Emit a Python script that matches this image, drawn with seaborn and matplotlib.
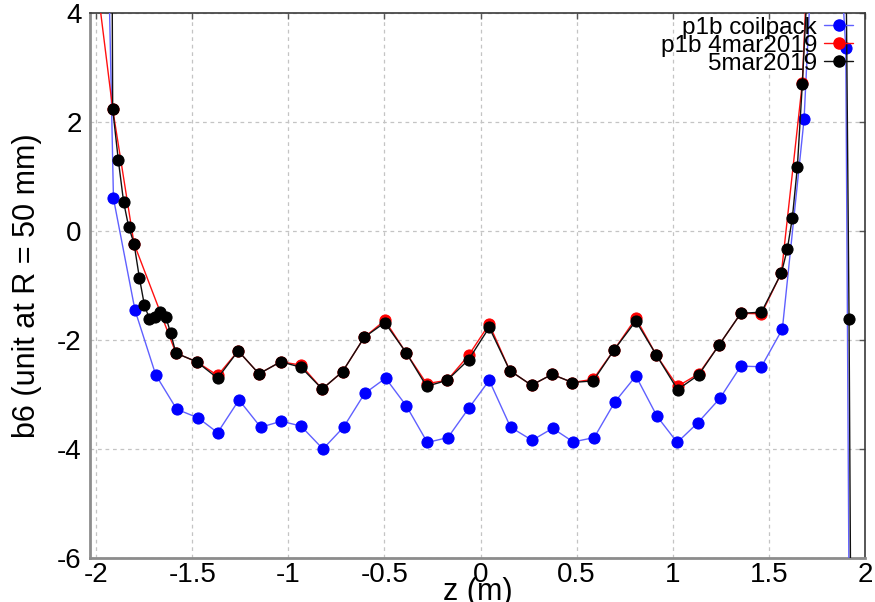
import matplotlib
matplotlib.use("Agg")
import matplotlib.pyplot as plt
from matplotlib.lines import Line2D
import seaborn as sns

# b6 harmonic along the magnet axis, three measurements
z_coilpack = [-2.018, -1.910, -1.798, -1.690, -1.581, -1.469, -1.368, -1.257, -1.144,
              -1.036, -0.934, -0.820, -0.713, -0.603, -0.494, -0.386, -0.277, -0.170,
              -0.059, 0.045, 0.156, 0.268, 0.375, 0.482, 0.591, 0.698, 0.808, 0.918,
              1.023, 1.130, 1.245, 1.354, 1.461, 1.570, 1.683, 1.792, 1.900, 2.008]
b6_coilpack = [19.0, 0.60, -1.45, -2.64, -3.27, -3.43, -3.70, -3.10, -3.60,
               -3.49, -3.58, -4.00, -3.60, -2.98, -2.70, -3.21, -3.88, -3.79,
               -3.24, -2.74, -3.60, -3.84, -3.62, -3.87, -3.79, -3.14, -2.66, -3.40,
               -3.88, -3.52, -3.07, -2.48, -2.49, -1.80, 2.05, 10.0, 3.35, -60.0]

z_4mar = [-2.022, -1.914, -1.803, -1.585, -1.477, -1.368, -1.261, -1.153,
          -1.040, -0.934, -0.824, -0.718, -0.605, -0.498, -0.388, -0.281, -0.174,
          -0.062, 0.045, 0.152, 0.265, 0.372, 0.478, 0.586, 0.695, 0.808, 0.915,
          1.025, 1.135, 1.241, 1.354, 1.461, 1.565, 1.674, 1.785]
b6_4mar = [5.3, 2.24, -0.23, -2.24, -2.40, -2.65, -2.20, -2.62,
           -2.40, -2.46, -2.90, -2.58, -1.95, -1.64, -2.23, -2.80, -2.74,
           -2.28, -1.71, -2.56, -2.83, -2.63, -2.78, -2.72, -2.18, -1.60, -2.28,
           -2.85, -2.62, -2.09, -1.51, -1.52, -0.77, 2.72, 12.0]

z_5mar = [-1.941, -1.914, -1.885, -1.857, -1.831, -1.803, -1.775, -1.749, -1.723,
          -1.694, -1.668, -1.638, -1.612, -1.585, -1.477, -1.368, -1.261, -1.153,
          -1.040, -0.934, -0.824, -0.718, -0.605, -0.498, -0.388, -0.281, -0.174,
          -0.062, 0.045, 0.152, 0.265, 0.372, 0.478, 0.586, 0.695, 0.808, 0.915,
          1.025, 1.135, 1.241, 1.354, 1.461, 1.565, 1.596, 1.622, 1.648, 1.674,
          1.700, 1.891, 1.917, 1.943]
b6_5mar = [25.0, 2.24, 1.31, 0.53, 0.08, -0.23, -0.86, -1.36, -1.61,
           -1.58, -1.48, -1.57, -1.88, -2.24, -2.40, -2.70, -2.20, -2.62,
           -2.40, -2.50, -2.90, -2.58, -1.95, -1.68, -2.23, -2.85, -2.74,
           -2.36, -1.77, -2.56, -2.83, -2.63, -2.78, -2.75, -2.18, -1.65, -2.28,
           -2.91, -2.64, -2.09, -1.51, -1.49, -0.77, -0.33, 0.24, 1.17, 2.70,
           4.5, 9.2, -1.61, -17.5]

series_labels = ["p1b coilpack", "p1b 4mar2019", "5mar2019"]
x_ticks = [-2, -1.5, -1, -0.5, 0, 0.5, 1, 1.5, 2]
x_tick_labels = ["-2", "-1.5", "-1", "-0.5", "0", "0.5", "1", "1.5", "2"]
y_ticks = [-6, -4, -2, 0, 2, 4]
y_tick_labels = ["-6", "-4", "-2", "0", "2", "4"]

sns.set_style("white")
plt.rcParams["font.family"] = ["Liberation Sans", "DejaVu Sans"]
plt.rcParams["text.color"] = "black"
plt.rcParams["axes.labelcolor"] = "black"

fig = plt.figure(figsize=(8.75, 6.02), dpi=100)
ax = fig.add_axes([90 / 875, 1 - 558 / 602, 775 / 875, 545 / 602])

styles = [
    (z_coilpack, b6_coilpack, "#6060ff", "#0000ff"),
    (z_4mar, b6_4mar, "#ff1010", "#ff0000"),
    (z_5mar, b6_5mar, "#111111", "#000000"),
]
handles = []
for zs, vals, line_c, mark_c in styles:
    sns.lineplot(x=zs, y=vals, ax=ax, color=line_c, lw=1.0, marker="o",
                 markersize=8, markerfacecolor=mark_c, markeredgecolor=mark_c,
                 estimator=None, sort=False, zorder=3)
    handles.append(Line2D([0], [0], color=line_c, lw=1.0, marker="o", markersize=8,
                          markerfacecolor=mark_c, markeredgecolor=mark_c))

ax.set_xlim(-2.032, 2.0)
ax.set_ylim(-6, 4)
ax.set_xticks(x_ticks)
ax.set_xticklabels(x_tick_labels)
ax.set_yticks(y_ticks)
ax.set_yticklabels(y_tick_labels)

ax.set_axisbelow(True)
ax.grid(True, color="#c4c4c4", linestyle=(0, (3, 3)), lw=0.9)

ax.tick_params(axis="both", direction="in", length=4, width=1, colors="#555555",
               labelcolor="black", labelsize=20, top=True, right=True)
ax.tick_params(axis="y", pad=6)
ax.tick_params(axis="x", pad=3)

for side in ("left", "bottom"):
    ax.spines[side].set_color("#8c8c8c")
    ax.spines[side].set_linewidth(2.0)
for side in ("top", "right"):
    ax.spines[side].set_color("#3a3a3a")
    ax.spines[side].set_linewidth(1.2)

ax.set_xlabel("z (m)", fontsize=22)
ax.xaxis.set_label_coords(0.5, -0.035)
ax.set_ylabel("b6 (unit at R = 50 mm)", fontsize=22)
ax.yaxis.set_label_coords(-0.062, 0.5)

ax.legend(handles, series_labels, loc="upper right", bbox_to_anchor=(0.9897, 1.0),
          frameon=False, markerfirst=False, fontsize=17.5, handlelength=1.2,
          handletextpad=0.3, labelspacing=-0.16, borderaxespad=0.15, borderpad=0.0)

fig.savefig("out.png", dpi=100)
